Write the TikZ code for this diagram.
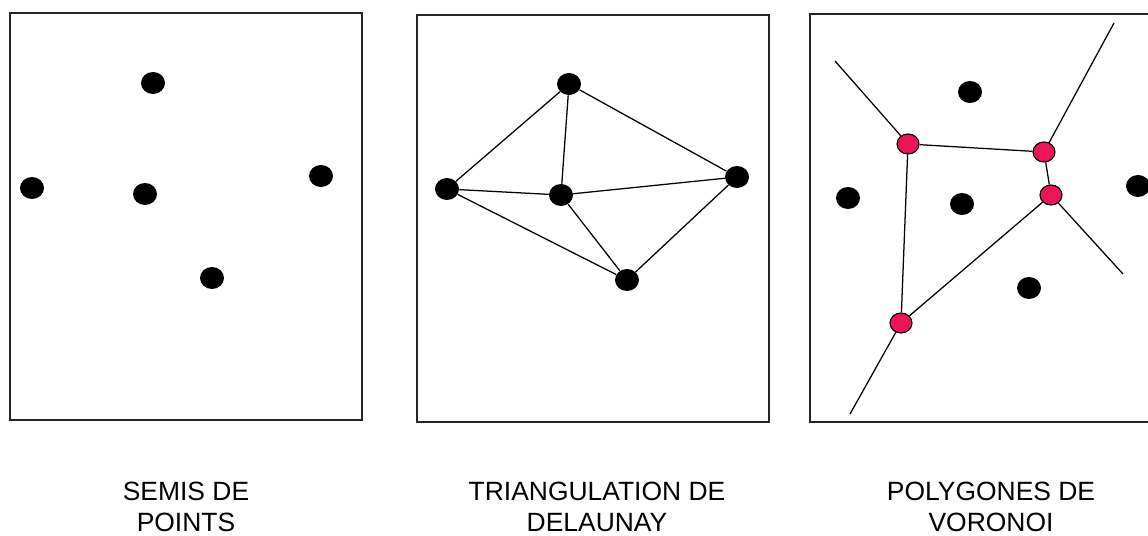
\documentclass[tikz,border=0pt]{standalone}
\usepackage{fontspec}
\setmainfont{Liberation Sans}
\usetikzlibrary{shapes.geometric}
\definecolor{voro}{RGB}{238,20,88}

\begin{document}
\begin{tikzpicture}[x=0.025cm,y=-0.025cm,
  dot/.style={ellipse,fill=black,inner sep=0,minimum width=0.6cm,minimum height=0.55cm},
  sommet/.style={ellipse,draw=black,fill=voro,line width=.8pt,inner sep=0,minimum width=0.55cm,minimum height=0.5cm},
  arete/.style={line width=.9pt},
  cadre/.style={line width=.9pt,draw=black!85},
  titre/.style={anchor=north,align=center,inner sep=0,font=\fontsize{18.8}{22}\selectfont}]
\useasboundingbox (0,0) rectangle (1148,536);
\clip (0,0) rectangle (1148,536);

% semis de points
\draw[cadre] (10,13) rectangle (362,420);
\node[dot] (a1) at (153,83) {};
\node[dot] (a2) at (32,188) {};
\node[dot] (a3) at (145,194) {};
\node[dot] (a4) at (321,176) {};
\node[dot] (a5) at (212,278) {};
\node[titre] (t1) at (186,482) {SEMIS DE\\POINTS};

% triangulation
\draw[cadre] (417,15) rectangle (769,422);
\node[dot] (b1) at (569,84) {};
\node[dot] (b2) at (447,189) {};
\node[dot] (b3) at (561,195) {};
\node[dot] (b4) at (737,177) {};
\node[dot] (b5) at (627,280) {};
\draw[arete] (b1)--(b2) (b1)--(b3) (b1)--(b4);
\draw[arete] (b2)--(b3) (b2)--(b5);
\draw[arete] (b3)--(b4) (b3)--(b5) (b4)--(b5);
\node[titre] (t2) at (597,482) {TRIANGULATION DE\\DELAUNAY};

% polygones
\draw[cadre] (810,14) rectangle (1162,422);
\node[dot] (c1) at (970,92) {};
\node[dot] (c2) at (848,198) {};
\node[dot] (c3) at (962,204) {};
\node[dot] (c4) at (1138,186) {};
\node[dot] (c5) at (1029,288) {};
\coordinate (e1) at (835,61);
\coordinate (e2) at (1114,23);
\coordinate (e3) at (1123,274);
\coordinate (e4) at (850,414);
\node[sommet] (v1) at (908,144) {};
\node[sommet] (v2) at (1044,152) {};
\node[sommet] (v3) at (1051,195) {};
\node[sommet] (v4) at (901,323) {};
\draw[arete] (v1)--(v2) (v2)--(v3) (v1)--(v4) (v3)--(v4);
\draw[arete] (v1)--(e1) (v2)--(e2) (v3)--(e3) (v4)--(e4);
\node[titre] (t3) at (991,482) {POLYGONES DE\\VORONOI};
\end{tikzpicture}
\end{document}
